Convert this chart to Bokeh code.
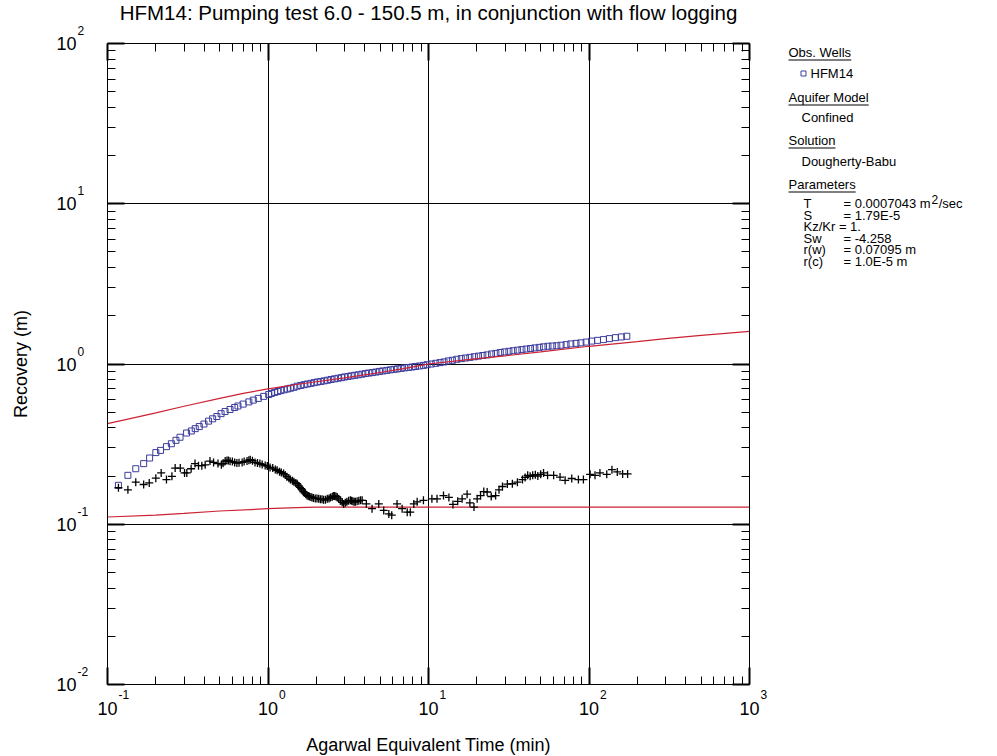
import math
from bokeh.plotting import figure
from bokeh.models import Range1d, LogAxis, FixedTicker, CustomJSTickFormatter
from bokeh.layouts import row, column
from bokeh.core.properties import value
from bokeh.embed import file_html
from bokeh.resources import INLINE

# ---------------- data ----------------
title_text = "HFM14: Pumping test 6.0 - 150.5 m, in conjunction with flow logging"
x_title = "Agarwal Equivalent Time (min)"
y_title = "Recovery (m)"

x_ticks = [0.1, 1, 10, 100, 1000]
x_exps = ["-1", "0", "1", "2", "3"]
y_ticks = [0.01, 0.1, 1, 10, 100]
y_exps = ["-2", "-1", "0", "1", "2"]

# observed recovery (squares)
sq_t = [0.117, 0.134, 0.150, 0.168, 0.183, 0.200, 0.214, 0.233, 0.250, 0.267, 0.283, 0.311,
        0.333, 0.352, 0.373, 0.399, 0.426, 0.452, 0.48, 0.51, 0.54, 0.58, 0.62, 0.65, 0.70,
        0.76, 0.81, 0.87, 0.94, 1.01, 1.05, 1.1, 1.15, 1.2, 1.26, 1.32, 1.38, 1.45, 1.52, 1.6,
        1.68, 1.76, 1.85, 1.94, 2.03, 2.13, 2.24, 2.35, 2.47, 2.6, 2.73, 2.87, 3.0, 3.15, 3.3,
        3.47, 3.65, 3.85, 4.05, 4.25, 4.47, 4.7, 4.95, 5.2, 5.5, 5.8, 6.1, 6.4, 6.75, 7.1, 7.5,
        7.9, 8.3, 8.8, 9.3, 9.8, 10.4, 11.1, 11.8, 12.5, 13.3, 14.1, 15.0, 16.0, 17.0, 18.1,
        19.3, 20.5, 21.8, 23.2, 24.7, 26.3, 28.0, 29.8, 31.7, 33.7, 35.9, 38.2, 40.6, 43.2,
        46.0, 49.0, 52.1, 55.5, 59.1, 63, 67, 72, 77, 83, 89, 96, 104, 113, 123, 134, 146,
        159, 172]
sq_s = [0.175, 0.202, 0.222, 0.239, 0.259, 0.280, 0.289, 0.305, 0.318, 0.334, 0.349, 0.371,
        0.382, 0.395, 0.407, 0.422, 0.44, 0.455, 0.47, 0.49, 0.505, 0.52, 0.535, 0.547, 0.562,
        0.58, 0.595, 0.61, 0.628, 0.645, 0.655, 0.665, 0.673, 0.682, 0.69, 0.698, 0.706, 0.715,
        0.727, 0.735, 0.743, 0.75, 0.757, 0.765, 0.772, 0.778, 0.785, 0.792, 0.80, 0.808,
        0.815, 0.822, 0.83, 0.836, 0.843, 0.85, 0.856, 0.864, 0.872, 0.878, 0.884, 0.891,
        0.899, 0.905, 0.912, 0.92, 0.926, 0.932, 0.939, 0.946, 0.952, 0.958, 0.965, 0.972,
        0.98, 0.99, 1.0, 1.01, 1.02, 1.03, 1.045, 1.055, 1.07, 1.08, 1.09, 1.10, 1.11, 1.12,
        1.13, 1.14, 1.155, 1.165, 1.18, 1.19, 1.20, 1.21, 1.22, 1.23, 1.24, 1.25, 1.26, 1.27,
        1.28, 1.29, 1.295, 1.30, 1.31, 1.32, 1.335, 1.345, 1.355, 1.37, 1.39, 1.405, 1.42,
        1.44, 1.46, 1.475, 1.49]

# derivative (crosses)
cr_t = [0.117, 0.134, 0.150, 0.168, 0.182, 0.200, 0.216, 0.233, 0.252, 0.264, 0.284, 0.302,
        0.312, 0.332, 0.351, 0.369, 0.387, 0.406, 0.435, 0.458, 0.488, 0.512, 0.525, 0.541,
        0.555, 0.567, 0.58, 0.60, 0.62, 0.64, 0.66, 0.69, 0.71, 0.74, 0.76, 0.775, 0.80, 0.83,
        0.86, 0.89, 0.92, 0.96, 0.99, 1.03, 1.07, 1.11, 1.14, 1.18, 1.21, 1.25, 1.28, 1.31,
        1.35, 1.38, 1.42, 1.45, 1.49, 1.52, 1.55, 1.58, 1.61, 1.63, 1.66, 1.69, 1.72, 1.75,
        1.78, 1.81, 1.85, 1.88, 1.92, 1.97, 2.02, 2.07, 2.12, 2.17, 2.22, 2.28, 2.34, 2.40,
        2.45, 2.51, 2.55, 2.60, 2.65, 2.70, 2.76, 2.83, 2.90, 2.96, 3.03, 3.10, 3.18, 3.26,
        3.32, 3.38, 3.44, 3.50, 3.59, 3.68, 3.77, 3.86, 4.1, 4.45, 4.9, 5.26, 5.66, 5.9, 6.37,
        6.85, 7.37, 7.7, 8.1, 8.5, 9.3, 10.5, 11.3, 12.4, 13.4, 14.2, 15.2, 16.2, 17.4, 18.1,
        19.2, 20.1, 21.1, 22.1, 23.2, 24.6, 26.2, 27.5, 28.9, 31.0, 33.3, 35.8, 38.5, 40.0,
        41.5, 43.0, 44.6, 46.3, 48.0, 50.0, 52.1, 55.2, 60.2, 66.0, 71.0, 78.1, 85.9, 92.3,
        101.6, 109, 117, 129, 139, 150, 162, 174]
cr_s = [0.169, 0.164, 0.183, 0.177, 0.181, 0.194, 0.209, 0.190, 0.199, 0.224, 0.224, 0.209,
        0.209, 0.222, 0.239, 0.232, 0.232, 0.235, 0.248, 0.243, 0.239, 0.235, 0.240, 0.248,
        0.250, 0.250, 0.247, 0.246, 0.243, 0.241, 0.242, 0.243, 0.246, 0.248, 0.251, 0.253,
        0.249, 0.243, 0.241, 0.239, 0.236, 0.233, 0.231, 0.226, 0.224, 0.220, 0.217, 0.213,
        0.210, 0.207, 0.203, 0.198, 0.194, 0.190, 0.187, 0.184, 0.181, 0.179, 0.174, 0.170,
        0.167, 0.164, 0.160, 0.157, 0.154, 0.151, 0.150, 0.149, 0.148, 0.147, 0.146, 0.145,
        0.145, 0.144, 0.143, 0.143, 0.142, 0.142, 0.144, 0.145, 0.147, 0.148, 0.150, 0.150,
        0.149, 0.148, 0.144, 0.140, 0.137, 0.134, 0.136, 0.138, 0.140, 0.141, 0.140, 0.139,
        0.138, 0.138, 0.139, 0.140, 0.141, 0.141, 0.134, 0.125, 0.134, 0.122, 0.116, 0.114,
        0.134, 0.125, 0.119, 0.119, 0.134, 0.138, 0.141, 0.144, 0.144, 0.151, 0.147, 0.133,
        0.139, 0.144, 0.154, 0.136, 0.128, 0.144, 0.151, 0.160, 0.159, 0.149, 0.151, 0.164,
        0.172, 0.178, 0.179, 0.183, 0.190, 0.196, 0.202, 0.199, 0.202, 0.204, 0.200, 0.205,
        0.209, 0.202, 0.202, 0.197, 0.188, 0.193, 0.190, 0.190, 0.205, 0.202, 0.209, 0.205,
        0.219, 0.212, 0.206, 0.206]

# type curve (recovery) and its derivative (red lines)
fit_t = [0.1, 0.15, 0.2, 0.3, 0.5, 0.7, 1, 1.5, 2, 3, 5, 7, 10, 20, 30, 50, 100, 200, 300,
         500, 1000]
fit_s = [0.425, 0.465, 0.495, 0.545, 0.61, 0.655, 0.70, 0.745, 0.775, 0.82, 0.885, 0.935,
         1.0, 1.08, 1.125, 1.19, 1.29, 1.38, 1.44, 1.51, 1.60]
dfit_t = [0.1, 0.2, 0.3, 0.5, 1, 1.5, 2, 3, 10, 100, 1000]
dfit_s = [0.111, 0.114, 0.117, 0.121, 0.125, 0.127, 0.128, 0.128, 0.128, 0.128, 0.128]

# legend panel texts
leg_headers = ["Obs. Wells", "Aquifer Model", "Solution", "Parameters"]
leg_items = ["Confined", "Dougherty-Babu"]
well_name = "HFM14"
par_names = ["T", "S", "Sw", "r(w)", "r(c)"]
par_values = ["= 0.0007043 m", "= 1.79E-5", "= -4.258", "= 0.07095 m", "= 1.0E-5 m"]
kz_text = "Kz/Kr = 1."

# ---------------- layout geometry (page pixels) ----------------
FONT = "Liberation Sans"
SQ_COLOR = "#3C3C9E"
RED = "#CC2233"
W, H = 997, 756
TOP_H = 24                     # title strip height
LEFT_W = 94                    # y tick label / y title strip width
FR_X0, FR_Y0 = 107, 43         # frame top-left on the page
FR_W, FR_H = 642, 641
MAIN_W = 663                   # main figure width (page x 94..757)
MID_H = 662                    # main figure height (page y 24..686)
B_L = FR_X0 - LEFT_W           # 13
B_R = MAIN_W - B_L - FR_W      # 8
B_T = FR_Y0 - TOP_H            # 19
B_B = MID_H - B_T - FR_H       # 2
BOT_H = H - TOP_H - MID_H      # 70
LEG_W = W - LEFT_W - MAIN_W    # 240
PPD_X = FR_W / 4.0             # pixels per decade
PPD_Y = FR_H / 4.0

tf = value(FONT)


def strip(width, height, xr, yr, xtype="linear", ytype="linear", **kw):
    f = figure(width=width, height=height, x_range=xr, y_range=yr, title=None,
               x_axis_type=xtype, y_axis_type=ytype, x_axis_location=None,
               y_axis_location=None, output_backend="svg", toolbar_location=None, **kw)
    f.grid.visible = False
    f.outline_line_color = None
    return f


def txt(f, xs, ys, texts, size, align="left", yoff=0, angle=0.0):
    f.text(x=xs, y=ys, text=texts, text_font=tf, text_font_size=value(f"{size}px"),
           text_align=align, text_baseline="middle", text_color="black",
           y_offset=yoff, angle=angle)


# ---------------- main plot ----------------
xr = Range1d(x_ticks[0], x_ticks[-1])
yr = Range1d(y_ticks[0], y_ticks[-1])
p = figure(width=MAIN_W, height=MID_H, x_axis_type="log", y_axis_type="log",
           x_range=xr, y_range=yr, title=None, output_backend="svg",
           toolbar_location=None, min_border_left=B_L, min_border_right=B_R,
           min_border_top=B_T, min_border_bottom=B_B)
p.outline_line_color = "black"
p.outline_line_width = 1

x_minor = [k * 10.0 ** e for e in range(-1, 3) for k in range(2, 10)]
y_minor = [k * 10.0 ** e for e in range(-2, 2) for k in range(2, 10)]


def style_axis(ax, ticks, minor):
    ax.ticker = FixedTicker(ticks=ticks, minor_ticks=minor)
    ax.formatter = CustomJSTickFormatter(code="return ''")
    ax.major_label_text_font_size = "0px"
    ax.major_label_standoff = 0
    ax.major_tick_in = 17
    ax.major_tick_out = 0
    ax.minor_tick_in = 8
    ax.minor_tick_out = 0
    ax.major_tick_line_width = 2
    ax.major_tick_line_color = "black"
    ax.minor_tick_line_color = "black"
    ax.minor_tick_line_width = 1
    ax.axis_line_color = "black"


for ax in p.below:
    style_axis(ax, x_ticks, x_minor)
for ax in p.left:
    style_axis(ax, y_ticks, y_minor)
top_ax = LogAxis()
style_axis(top_ax, x_ticks, x_minor)
p.add_layout(top_ax, "above")
right_ax = LogAxis()
style_axis(right_ax, y_ticks, y_minor)
p.add_layout(right_ax, "right")

p.xgrid.ticker = FixedTicker(ticks=x_ticks)
p.ygrid.ticker = FixedTicker(ticks=y_ticks)
for g in (p.xgrid, p.ygrid):
    g.grid_line_color = "black"
    g.grid_line_alpha = 1.0
    g.grid_line_width = 1

p.scatter(sq_t, sq_s, marker="square", size=6, fill_color=None,
          line_color=SQ_COLOR, line_width=1)
p.line(fit_t, fit_s, line_color=RED, line_width=1.2)
p.line(dfit_t, dfit_s, line_color=RED, line_width=1.2)
p.scatter(cr_t, cr_s, marker="cross", size=8, line_color="black", line_width=1.3)

# ---------------- title strip ----------------
top = strip(W, TOP_H, Range1d(0, W), Range1d(TOP_H, 0), min_border=0)
txt(top, [FR_X0 + FR_W / 2.0], [12], [title_text], 20.5, align="center")

# ---------------- left strip: y tick labels + y title (same log scale as the plot) ----
LEFT_H = H - TOP_H
ly_hi = 10 ** (math.log10(y_ticks[-1]) + (FR_Y0 - TOP_H) / PPD_Y)
ly_lo = 10 ** (math.log10(y_ticks[0]) - (H - FR_Y0 - FR_H) / PPD_Y)
left = strip(LEFT_W, LEFT_H, Range1d(0, LEFT_W), Range1d(ly_lo, ly_hi), ytype="log",
             min_border=0)
txt(left, [76] * len(y_ticks), y_ticks, ["10"] * len(y_ticks), 18, align="right")
txt(left, [77] * len(y_ticks), y_ticks, y_exps, 12, yoff=-13)
txt(left, [20], [1], [y_title], 18, align="center", angle=math.pi / 2)

# ---------------- bottom strip: x tick labels + x title ----------------
BOT_W = W - LEFT_W
bx_lo = 10 ** (math.log10(x_ticks[0]) - (FR_X0 - LEFT_W) / PPD_X)
bx_hi = 10 ** (math.log10(x_ticks[0]) + (W - FR_X0) / PPD_X)
bot = strip(BOT_W, BOT_H, Range1d(bx_lo, bx_hi), Range1d(BOT_H, 0), xtype="log",
            min_border=0)
txt(bot, x_ticks, [22] * len(x_ticks), ["10"] * len(x_ticks), 18, align="center")
txt(bot, [t * 10 ** (11 / PPD_X) for t in x_ticks], [8] * len(x_ticks), x_exps, 12)
txt(bot, [10], [58], [x_title], 18, align="center")

# ---------------- legend panel (page coordinates inside its frame) ----------------
WD = {' ': .278, '.': .278, '-': .333, '=': .584, '/': .278, '(': .333, ')': .333,
      'A': .667, 'B': .667, 'C': .722, 'D': .722, 'E': .667, 'F': .611, 'H': .722,
      'K': .667, 'M': .833, 'O': .778, 'P': .667, 'S': .667, 'T': .611, 'W': .944,
      'a': .556, 'b': .556, 'c': .5, 'd': .556, 'e': .556, 'f': .278, 'g': .556, 'h': .556,
      'i': .222, 'l': .222, 'm': .833, 'n': .556, 'o': .556, 'q': .556, 'r': .333, 's': .5,
      't': .278, 'u': .556, 'v': .5, 'w': .722, 'y': .5, 'z': .5}


def tw(s, fs):
    return sum(WD.get(c, .556) for c in s) * fs


LFS = 13
LX0 = LEFT_W + MAIN_W
lg = strip(LEG_W, MID_H, Range1d(LX0, W), Range1d(FR_Y0 + FR_H, FR_Y0),
           min_border_left=0, min_border_right=0, min_border_top=B_T,
           min_border_bottom=B_B)

hx, ix, eqx = 788, 801, 843
head_y = [52, 97, 140, 184]
item_y = [117, 161]
well_y = 73
par_y = [203, 214.5, 237.5, 249, 260.5]
kz_y = 226

txt(lg, [hx] * len(leg_headers), head_y, leg_headers, LFS)
lg.segment(x0=[hx] * len(leg_headers), y0=[y + 7.5 for y in head_y],
           x1=[hx + tw(h, LFS) for h in leg_headers], y1=[y + 7.5 for y in head_y],
           line_color="black", line_width=1)
txt(lg, [ix] * len(leg_items), item_y, leg_items, LFS)
lg.scatter(x=[ix + 2], y=[well_y], marker="square", size=5, fill_color=None,
           line_color=SQ_COLOR, line_width=1)
txt(lg, [ix + 9], [well_y], [well_name], LFS)
txt(lg, [ix + 2] * len(par_names), par_y, par_names, LFS)
txt(lg, [eqx] * len(par_values), par_y, par_values, LFS)
txt(lg, [ix + 2], [kz_y], [kz_text], LFS)
sup_x = eqx + tw(par_values[0], LFS) + 1
txt(lg, [sup_x], [par_y[0] - 4], ["2"], 12)
txt(lg, [sup_x + tw("2", 12) + 0.5], [par_y[0]], ["/sec"], LFS)

layout = column(top, row(left, column(row(p, lg), bot)))
open("out.html", "w").write(file_html(layout, INLINE))
